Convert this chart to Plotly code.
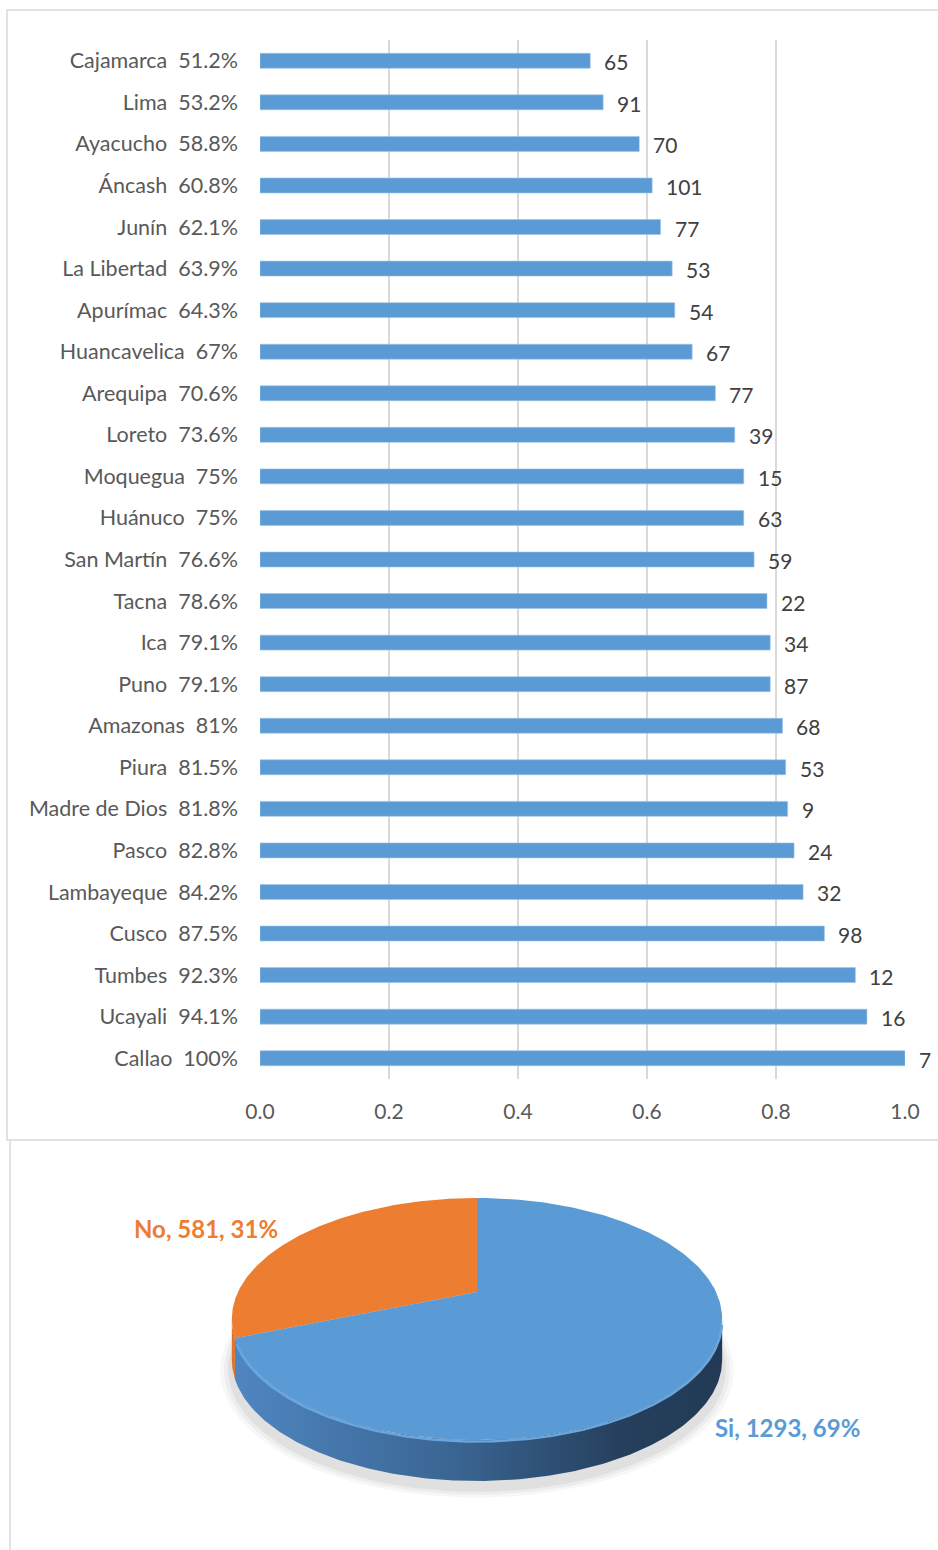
import math
import plotly.graph_objects as go

# ---------------- data ----------------
regions = ["Cajamarca", "Lima", "Ayacucho", "Áncash", "Junín", "La Libertad", "Apurímac",
           "Huancavelica", "Arequipa", "Loreto", "Moquegua", "Huánuco", "San Martín", "Tacna",
           "Ica", "Puno", "Amazonas", "Piura", "Madre de Dios", "Pasco", "Lambayeque", "Cusco",
           "Tumbes", "Ucayali", "Callao"]
shares = [0.512, 0.532, 0.588, 0.608, 0.621, 0.639, 0.643, 0.67, 0.706, 0.736, 0.75, 0.75,
          0.766, 0.786, 0.791, 0.791, 0.81, 0.815, 0.818, 0.828, 0.842, 0.875, 0.923, 0.941, 1.0]
counts = [65, 91, 70, 101, 77, 53, 54, 67, 77, 39, 15, 63, 59, 22, 34, 87, 68, 53, 9, 24, 32,
          98, 12, 16, 7]
x_ticks = [0.0, 0.2, 0.4, 0.6, 0.8, 1.0]

pie_labels = ["No", "Si"]
pie_values = [581, 1293]

# ---------------- styles ----------------
W, H = 938, 1550
FONT = "Lato"
AXIS_COL = "#595959"
LABEL_COL = "#404040"
GRID_COL = "#d9d9d9"
BAR_COL = "#5b9bd5"
ORANGE = "#ed7d31"

cat_labels = [f"{r}  {s*100:g}%" for r, s in zip(regions, shares)]

fig = go.Figure()

fig.add_trace(go.Bar(
    x=shares, y=cat_labels, orientation="h",
    marker=dict(color=BAR_COL, line=dict(color="#9dc3e6", width=0.6)),
    width=0.36, showlegend=False, hoverinfo="skip",
    xaxis="x", yaxis="y",
))

for s, lab, c in zip(shares, cat_labels, counts):
    fig.add_annotation(x=s, y=lab, xref="x", yref="y", text=str(c), showarrow=False,
                       xanchor="left", xshift=12, yshift=-1,
                       font=dict(family=FONT, size=21, color=LABEL_COL))

# ---------------- 3D-looking pie (drawn in pixel-like axis) ----------------
cx, cy = 477.0, 1292.0
k = 0.223
sx, sy = 239.0, 115.0
depth = 41.0
total = sum(pie_values)

def proj(t_deg, drop=0.0, scale=1.0):
    t = math.radians(t_deg)
    X, Y = math.cos(t) * scale, math.sin(t) * scale
    d = 1 + k * Y
    return cx + sx * X / d, cy - sy * Y / d + drop

def arc(t0, t1, drop=0.0, n=200, scale=1.0):
    pts = [proj(t0 + (t1 - t0) * i / n, drop, scale) for i in range(n + 1)]
    return [p[0] for p in pts], [p[1] for p in pts]

fracs = [v / total for v in pie_values]
t_start = 90.0
t_no_end = t_start + fracs[0] * 360.0
t_left = 180.0 + math.degrees(math.asin(k))
t_right = 360.0 - math.degrees(math.asin(k))

# shadow
for sc, al in [(1.045, 0.03), (1.03, 0.04), (1.015, 0.05)]:
    xs, ys = arc(0, 360, drop=depth + 8, scale=sc)
    fig.add_trace(go.Scatter(x=xs, y=ys, fill="toself", mode="lines", line=dict(width=0),
                             fillcolor=f"rgba(0,0,0,{al})", hoverinfo="skip", showlegend=False,
                             xaxis="x2", yaxis="y2"))

# blue side
xa, ya = arc(t_no_end, t_right)
xb, yb = arc(t_right, t_no_end, drop=depth)
fig.add_trace(go.Scatter(x=xa + xb, y=ya + yb, fill="toself", mode="lines", line=dict(width=0),
                         fillgradient=dict(type="horizontal",
                                           colorscale=[[0, "#4f86c1"], [0.45, "#3a6592"],
                                                       [0.8, "#253f5c"], [1, "#223a55"]]),
                         hoverinfo="skip", showlegend=False, xaxis="x2", yaxis="y2"))
# orange side
xa, ya = arc(t_left, t_no_end)
xb, yb = arc(t_no_end, t_left, drop=depth)
fig.add_trace(go.Scatter(x=xa + xb, y=ya + yb, fill="toself", mode="lines", line=dict(width=0),
                         fillcolor="#e0742c", hoverinfo="skip", showlegend=False,
                         xaxis="x2", yaxis="y2"))

# top faces
xa, ya = arc(t_start, t_no_end)
fig.add_trace(go.Scatter(x=[cx] + xa + [cx], y=[cy] + ya + [cy], fill="toself", mode="lines",
                         line=dict(width=0), fillcolor=ORANGE, hoverinfo="skip",
                         showlegend=False, xaxis="x2", yaxis="y2"))
xa, ya = arc(t_no_end, t_start + 360)
fig.add_trace(go.Scatter(x=[cx] + xa + [cx], y=[cy] + ya + [cy], fill="toself", mode="lines",
                         line=dict(width=0), fillcolor=BAR_COL, hoverinfo="skip",
                         showlegend=False, xaxis="x2", yaxis="y2"))
xa, ya = arc(t_no_end + 2, t_right - 2, drop=1.5)
fig.add_trace(go.Scatter(x=xa, y=ya, mode="lines", line=dict(width=2.5, color="#6aa6dc"),
                         hoverinfo="skip", showlegend=False, xaxis="x2", yaxis="y2"))

pct = [round(f * 100) for f in fracs]
fig.add_annotation(x=206, y=1228, xref="x2", yref="y2", showarrow=False,
                   text=f"<b>{pie_labels[0]}, {pie_values[0]}, {pct[0]}%</b>",
                   font=dict(family=FONT, size=24, color=ORANGE))
fig.add_annotation(x=787, y=1427, xref="x2", yref="y2", showarrow=False,
                   text=f"<b>{pie_labels[1]}, {pie_values[1]}, {pct[1]}%</b>",
                   font=dict(family=FONT, size=24, color=BAR_COL))

# ---------------- borders ----------------
def py(p):
    return 1 - p / H

fig.add_shape(type="rect", xref="paper", yref="paper", x0=7 / W, x1=1.01, y0=py(1140), y1=py(10),
              line=dict(color=GRID_COL, width=1.5), fillcolor="rgba(0,0,0,0)", layer="below")
fig.add_shape(type="line", xref="paper", yref="paper", x0=10 / W, x1=10 / W, y0=py(1141), y1=-0.01,
              line=dict(color=GRID_COL, width=1.5))

fig.update_layout(
    width=W, height=H, margin=dict(l=0, r=0, t=0, b=0), autosize=False,
    paper_bgcolor="white", plot_bgcolor="white", showlegend=False,
    font=dict(family=FONT, color=AXIS_COL),
    xaxis=dict(domain=[260 / W, 905 / W], range=[0, 1.0], tickvals=x_ticks, tickformat=".1f",
               showgrid=True, gridcolor=GRID_COL, gridwidth=1.5, zeroline=False,
               showline=False, ticks="", ticklabelstandoff=18, automargin=False,
               tickfont=dict(family=FONT, size=21, color=AXIS_COL), anchor="y", fixedrange=True),
    yaxis=dict(domain=[py(1079), py(40)], autorange="reversed", showgrid=False,
               showline=False, ticks="", ticklabelstandoff=21, zeroline=False, automargin=False,
               tickfont=dict(family=FONT, size=21.5, color=AXIS_COL), anchor="x", fixedrange=True),
    xaxis2=dict(domain=[0, 1], range=[0, W], visible=False, anchor="y2", fixedrange=True),
    yaxis2=dict(domain=[0, py(1141)], range=[H, 1141], visible=False, anchor="x2",
                fixedrange=True),
)

post = ("document.body.style.margin='0';document.body.style.padding='0';"
        "document.body.style.overflow='hidden';"
        "var gd=document.getElementById('{plot_id}');"
        "if(gd){Plotly.Plots.resize(gd);}")

fig.write_html("out.html", post_script=post, config={"displayModeBar": False})
